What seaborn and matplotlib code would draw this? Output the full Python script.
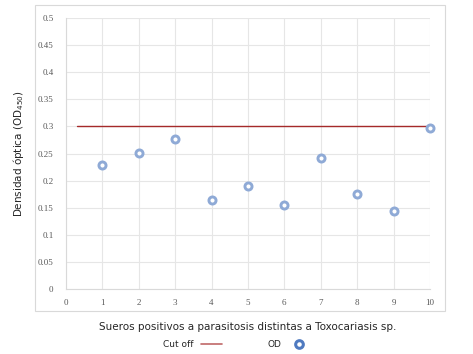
import numpy as np
import pandas as pd
import seaborn as sns
import matplotlib.pyplot as plt
from matplotlib.lines import Line2D
from matplotlib.patches import Rectangle

# sueros (x) and optical density
sueros = [1, 2, 3, 4, 5, 6, 7, 8, 9, 10]
od = [0.229, 0.251, 0.277, 0.164, 0.190, 0.155, 0.242, 0.175, 0.144, 0.297]
cutoff_x = [0.3, 10.1]
cutoff_y = [0.3, 0.3]
yticks = [0, 0.05, 0.1, 0.15, 0.2, 0.25, 0.3, 0.35, 0.4, 0.45, 0.5]
xticks = list(range(0, 11))

df = pd.DataFrame({"suero": sueros, "od": od})
cut = pd.DataFrame({"x": cutoff_x, "y": cutoff_y})

sns.set_style("white")
fig = plt.figure(figsize=(4.73, 3.54), dpi=100)
ax = fig.add_axes([0.1395, 0.1836, 0.909 - 0.1395, 0.949 - 0.1836])

# outer chart frame
fig.patches.append(Rectangle((0.074, 0.121), 0.867, 0.865, transform=fig.transFigure,
                             fill=False, edgecolor="#d9d9d9", linewidth=0.8))

line_col = "#a52a2a"
dot_col = "#8faad6"

sns.lineplot(data=cut, x="x", y="y", ax=ax, color=line_col, linewidth=1.0)
sns.scatterplot(data=df, x="suero", y="od", ax=ax, marker="o", s=26,
                facecolor="white", edgecolor=dot_col, linewidth=2.1, zorder=3,
                clip_on=False)

ax.set_xlim(0, 10)
ax.set_ylim(0, 0.5)
ax.set_xticks(xticks)
ax.set_yticks(yticks)
ax.set_xticklabels([str(t) for t in xticks])
ax.set_yticklabels([f"{t:g}" for t in yticks])
ax.tick_params(labelsize=6.5, colors="#595959", length=0)
ax.tick_params(axis="y", pad=9)
ax.tick_params(axis="x", pad=7)
for lab in ax.get_xticklabels() + ax.get_yticklabels():
    lab.set_family("Liberation Serif")
ax.grid(True, color="#e6e6e6", linewidth=0.8)
ax.set_axisbelow(True)
for s in ["top", "right"]:
    ax.spines[s].set_visible(False)
for s in ["left", "bottom"]:
    ax.spines[s].set_color("#d9d9d9")
    ax.spines[s].set_linewidth(0.8)

ax.set_xlabel("Sueros positivos a parasitosis distintas a Toxocariasis sp.",
              fontsize=7.5, color="#262626")
ax.set_ylabel("Densidad óptica (OD$_{450}$)", fontsize=7.5, color="#262626")
ax.xaxis.set_label_coords(0.5, -0.12)
ax.yaxis.set_label_coords(-0.11, 0.5)

handles = [
    Line2D([], [], color=line_col, alpha=0.7, linewidth=1.2),
    Line2D([], [], linestyle="none", marker="o", markersize=5.5,
           markerfacecolor="white", markeredgecolor="#4f7ac0", markeredgewidth=2.2),
]
fig.legend(handles, ["Cut off", "OD"], loc="center", bbox_to_anchor=(0.5, 0.026),
           ncol=2, frameon=False, markerfirst=False, fontsize=6.5,
           columnspacing=5, handlelength=2.4)

fig.savefig("out.png", dpi=100)
